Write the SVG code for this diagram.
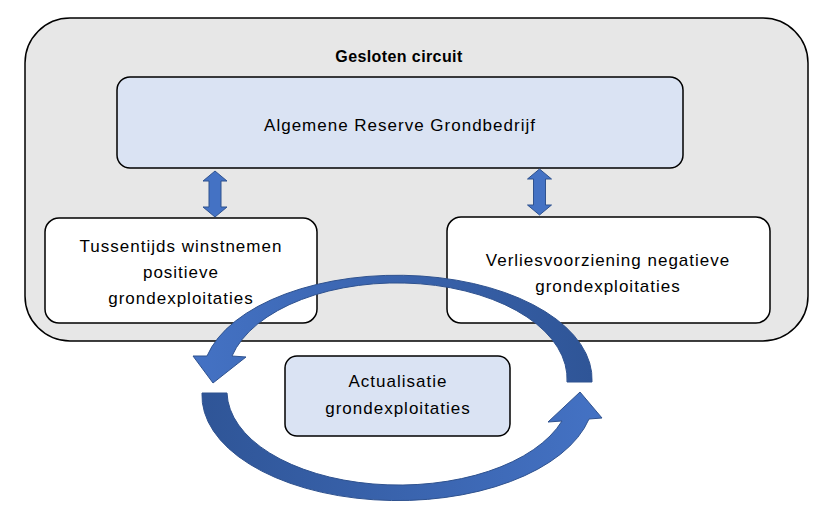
<svg xmlns="http://www.w3.org/2000/svg" width="826" height="510" viewBox="0 0 826 510">
<defs>
<style>
.t{font-family:"Liberation Sans",Arial,sans-serif;font-size:17px;fill:#000;text-anchor:middle;letter-spacing:1px}
.b{font-family:"Liberation Sans",Arial,sans-serif;font-size:16px;font-weight:bold;fill:#000;text-anchor:middle;letter-spacing:0.4px}
.box{stroke:#000;stroke-width:1.5}
.dbl{fill:#4472c4;stroke:#2f528f;stroke-width:1}
.arc{stroke:#2f528f;stroke-width:1}
</style>
<linearGradient id="gTop" x1="1" y1="0" x2="0" y2="0">
<stop offset="0" stop-color="#2f5597"/>
<stop offset="1" stop-color="#4472c4"/>
</linearGradient>
<linearGradient id="gBot" x1="0" y1="0" x2="1" y2="0">
<stop offset="0" stop-color="#2f5597"/>
<stop offset="1" stop-color="#4472c4"/>
</linearGradient>
</defs>
<rect width="826" height="510" fill="#fff"/>
<g id="circuit">
<rect class="box" x="25" y="18" width="783" height="323" rx="45" ry="45" fill="#e7e7e7"/>
<text class="b" x="399" y="62">Gesloten circuit</text>
</g>
<g id="reserve">
<rect class="box" x="117" y="77" width="566" height="91" rx="13" fill="#dae3f3"/>
<text class="t" x="400" y="131" letter-spacing="0.6">Algemene Reserve Grondbedrijf</text>
</g>
<g id="winst">
<rect class="box" x="45" y="218" width="272" height="105" rx="14" fill="#fff"/>
<text class="t" x="181" y="252">Tussentijds winstnemen</text>
<text class="t" x="181" y="278">positieve</text>
<text class="t" x="181" y="304">grondexploitaties</text>
</g>
<g id="verlies">
<rect class="box" x="447" y="217" width="323" height="106" rx="14" fill="#fff"/>
<text class="t" x="608" y="266">Verliesvoorziening negatieve</text>
<text class="t" x="608" y="292">grondexploitaties</text>
</g>
<g id="actualisatie">
<rect class="box" x="285" y="356" width="225" height="80" rx="12" fill="#dae3f3"/>
<text class="t" x="398" y="387">Actualisatie</text>
<text class="t" x="398" y="414">grondexploitaties</text>
</g>
<g id="connectors">
<path class="dbl" d="M215 171 L227 181 L221 181 L221 207 L227 207 L215 217 L203 207 L209 207 L209 181 L203 181 Z"/>
<path class="dbl" d="M539.5 169 L551.5 179 L545.5 179 L545.5 205 L551.5 205 L539.5 215 L527.5 205 L533.5 205 L533.5 179 L527.5 179 Z"/>
<path class="arc" fill="url(#gTop)" d="M592 382 A195 104 0 0 0 207 356 L193 356 L213 383 L246 357 L232 356 A170 96 0 0 1 567 382 Z"/>
<path class="arc" fill="url(#gBot)" d="M202 393 A196 105 0 0 0 589 419 L602 418 L580 392 L548 422 L562 421 A172 94 0 0 1 227 393 Z"/>
</g>
</svg>
